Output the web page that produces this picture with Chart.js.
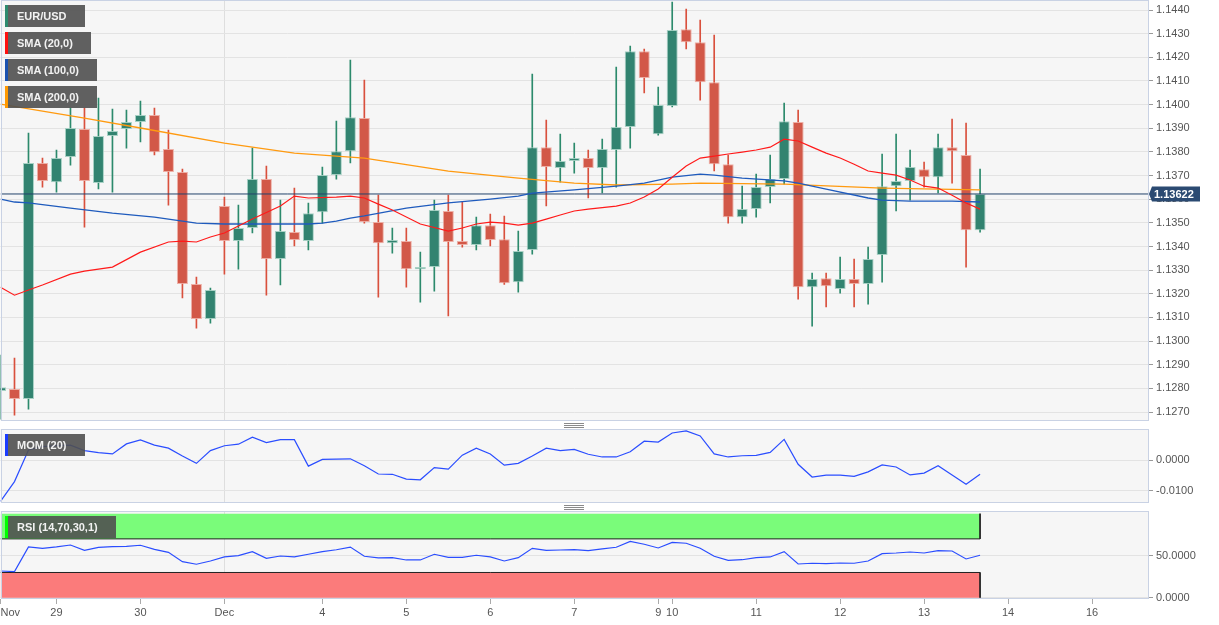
<!DOCTYPE html>
<html>
<head>
<meta charset="utf-8">
<script src="https://cdn.jsdelivr.net/npm/chart.js@4"></script>
<style>
  body { margin: 0; background: #fff; width: 1219px; height: 625px; position: relative; overflow: hidden; font-family: Arial, "Liberation Sans", sans-serif; }
  canvas { position: absolute; left: 0; }
  .tag { position: absolute; left: 5px; height: 22px; line-height: 22px; background: rgba(80, 80, 80, 0.9); color: #f2f2f2; font-weight: bold; font-size: 11px; padding: 0 18px 0 12px; white-space: nowrap; }
  .tag::before { content: ''; position: absolute; left: 0; top: 0; bottom: 0; width: 3px; background: var(--c); }
  .grip { position: absolute; left: 564px; width: 20px; height: 3px; border-top: 1px solid #8a8a8a; border-bottom: 1px solid #8a8a8a; }
  .grip::after { content: ''; position: absolute; left: 0; right: 0; top: 1px; border-top: 1px solid #8a8a8a; }
</style>
</head>
<body>
<canvas id="priceChart" width="1219" height="421" style="top:0"></canvas>
<canvas id="momChart" width="1219" height="74" style="top:429px"></canvas>
<canvas id="rsiChart" width="1219" height="114" style="top:511px"></canvas>

<div class="tag" style="top:5px; --c:#2e8b6f">EUR/USD</div>
<div class="tag" style="top:32px; --c:#ff1010">SMA (20,0)</div>
<div class="tag" style="top:59px; --c:#1a52b0">SMA (100,0)</div>
<div class="tag" style="top:86px; --c:#ff9900">SMA (200,0)</div>
<div class="tag" style="top:434px; --c:#1a3cff">MOM (20)</div>
<div class="tag" style="top:516px; --c:#00ff00">RSI (14,70,30,1)</div>
<div class="grip" style="top:423px"></div>
<div class="grip" style="top:505px"></div>

<script>
// 4h candles, EUR/USD, index = candle number from the left edge
const opens  = [1.12789,1.12797,1.12755,1.13753,1.13672,1.13778,1.13897,1.13668,1.13867,1.13897,
                1.13926,1.13956,1.13812,1.13715,1.13241,1.13093,1.13571,1.13423,1.13478,1.13685,
                1.13347,1.13461,1.13423,1.13545,1.13702,1.13803,1.13943,1.13503,1.13414,1.13423,
                1.13304,1.13313,1.13550,1.13423,1.13406,1.13490,1.13431,1.13249,1.13385,1.13820,
                1.13732,1.13761,1.13774,1.13732,1.13808,1.13905,1.14226,1.13875,1.13994,1.14319,
                1.14264,1.14095,1.13748,1.13524,1.13558,1.13651,1.13685,1.13926,1.13228,1.13266,
                1.13220,1.13262,1.13241,1.13364,1.13655,1.13677,1.13727,1.13693,1.13820,1.13787,
                1.13469];
const highs  = [1.12941,1.12928,1.13880,1.13774,1.13808,1.13985,1.13985,1.14028,1.13981,1.13977,
                1.14015,1.13985,1.13892,1.13727,1.13271,1.13224,1.13609,1.13575,1.13816,1.13740,
                1.13596,1.13647,1.13584,1.13736,1.13930,1.14188,1.14104,1.13617,1.13478,1.13478,
                1.13376,1.13596,1.13617,1.13588,1.13524,1.13537,1.13529,1.13465,1.14129,1.13935,
                1.13875,1.13837,1.13808,1.13854,1.14159,1.14247,1.14235,1.14074,1.14434,1.14404,
                1.14357,1.14294,1.13787,1.13655,1.13706,1.13787,1.14006,1.13977,1.13287,1.13287,
                1.13355,1.13347,1.13397,1.13791,1.13875,1.13808,1.13757,1.13875,1.13939,1.13922,
                1.13727];
const lows   = [1.12670,1.12687,1.12712,1.13651,1.13630,1.13744,1.13482,1.13643,1.13630,1.13816,
                1.13842,1.13787,1.13575,1.13182,1.13055,1.13076,1.13283,1.13304,1.13457,1.13194,
                1.13237,1.13402,1.13385,1.13499,1.13685,1.13753,1.13499,1.13186,1.13372,1.13228,
                1.13165,1.13211,1.13106,1.13397,1.13385,1.13402,1.13240,1.13207,1.13368,1.13571,
                1.13672,1.13710,1.13605,1.13626,1.13651,1.13816,1.14049,1.13871,1.13990,1.14235,
                1.14019,1.13719,1.13499,1.13499,1.13524,1.13584,1.13664,1.13177,1.13063,1.13144,
                1.13203,1.13144,1.13156,1.13249,1.13550,1.13596,1.13651,1.13626,1.13668,1.13313,
                1.13461];
const closes = [1.12805,1.12755,1.13753,1.13677,1.13774,1.13901,1.13677,1.13867,1.13888,1.13926,
                1.13956,1.13799,1.13715,1.13241,1.13093,1.13216,1.13423,1.13478,1.13685,1.13347,
                1.13465,1.13427,1.13541,1.13702,1.13803,1.13947,1.13503,1.13414,1.13427,1.13304,
                1.13313,1.13554,1.13419,1.13406,1.13490,1.13427,1.13245,1.13381,1.13820,1.13736,
                1.13761,1.13774,1.13732,1.13812,1.13905,1.14226,1.14112,1.13998,1.14315,1.14264,
                1.14095,1.13748,1.13524,1.13558,1.13651,1.13685,1.13930,1.13228,1.13262,1.13232,
                1.13262,1.13241,1.13347,1.13655,1.13677,1.13736,1.13693,1.13820,1.13803,1.13469,
                1.13622];

// moving averages, read at the candles where the line bends
const sma20Idx = [0,1,2,3,5,6,8,10,12,13,14,15,16,18,20,21,22,24,25,26,27,28,30,32,33,34,35,36,37,38,39,40,41,42,44,45,46,47,48,49,50,51,52,53,54,55,56,57,58,59,60,61,62,63,64,65,66,67,68,69,70];
const sma20Val = [1.13228,1.13194,1.13216,1.13237,1.13283,1.13296,1.13313,1.13376,1.13419,1.13423,1.13419,1.13440,1.13457,1.13516,1.13571,1.13613,1.13605,1.13609,1.13613,1.13605,1.13579,1.13554,1.13495,1.13465,1.13478,1.13495,1.13503,1.13499,1.13490,1.13499,1.13516,1.13533,1.13550,1.13558,1.13571,1.13584,1.13609,1.13643,1.13693,1.13740,1.13774,1.13782,1.13791,1.13799,1.13808,1.13820,1.13854,1.13846,1.13820,1.13795,1.13774,1.13748,1.13719,1.13710,1.13702,1.13681,1.13655,1.13647,1.13617,1.13584,1.13558];
const sma100Idx = [0,1,2,5,8,11,13,14,16,18,22,23,24,25,26,29,32,35,37,38,41,44,46,48,50,51,53,56,57,59,62,63,65,68,70];
const sma100Val = [1.13600,1.13588,1.13584,1.13562,1.13541,1.13524,1.13507,1.13499,1.13495,1.13495,1.13495,1.13499,1.13507,1.13520,1.13529,1.13562,1.13584,1.13600,1.13613,1.13626,1.13639,1.13655,1.13668,1.13693,1.13706,1.13702,1.13689,1.13677,1.13668,1.13643,1.13605,1.13596,1.13592,1.13592,1.13588];
const sma200Idx = [0,6,10,16,21,25,26,32,37,41,44,48,50,56,63,70];
const sma200Val = [1.14002,1.13943,1.13901,1.13837,1.13795,1.13778,1.13774,1.13719,1.13689,1.13668,1.13660,1.13664,1.13668,1.13664,1.13647,1.13639];

const momValues = [-0.0135,-0.0070,0.0034,0.0045,0.0048,0.0050,0.0032,0.0025,0.0021,0.0054,
                   0.0067,0.0050,0.0040,0.0014,-0.0010,0.0032,0.0048,0.0053,0.0076,0.0058,
                   0.0068,0.0068,-0.0019,0.0003,0.0004,0.0005,-0.0018,-0.0045,-0.0046,-0.0062,
                   -0.0064,-0.0024,-0.0029,0.0017,0.0040,0.0021,-0.0016,-0.0010,0.0014,0.0040,
                   0.0032,0.0036,0.0020,0.0011,0.0011,0.0028,0.0063,0.0060,0.0090,0.0097,
                   0.0080,0.0021,0.0011,0.0015,0.0016,0.0026,0.0069,-0.0013,-0.0055,-0.0049,
                   -0.0049,-0.0053,-0.0038,-0.0015,-0.0022,-0.0048,-0.0042,-0.0018,-0.0048,-0.0079,
                   -0.0046];
const rsiValues = [31.8,31.0,60.4,58.8,60.4,62.7,56.4,60.0,60.7,61.2,
                   62.4,57.6,54.0,42.9,39.8,43.7,48.5,50.0,54.8,46.9,
                   49.6,48.5,51.7,54.8,57.1,60.2,49.3,47.3,47.6,44.9,
                   44.9,51.7,48.1,48.1,50.5,48.5,43.7,47.6,58.8,56.4,
                   56.8,57.1,56.0,58.0,60.0,67.1,63.6,59.2,65.9,64.8,
                   58.8,49.3,44.5,45.2,47.6,48.5,54.8,40.1,41.0,40.5,
                   41.3,41.0,43.7,52.4,53.2,54.4,53.2,56.0,55.6,46.1,
                   50.5];

const xTickIdx = [0,4,10,16,23,29,35,41,47,48,54,60,66,72,78,82];
const xTickLabels = ['Nov','29','30','Dec','4','5','6','7','9','10','11','12','13','14','16',''];
const priceTicks = [1.127,1.128,1.129,1.130,1.131,1.132,1.133,1.134,1.135,1.136,1.137,1.138,1.139,1.140,1.141,1.142,1.143,1.144];
const momTicks = [0, -0.01];
const rsiTicks = [0, 50];
const rsiUpper = 70, rsiLower = 30;

const X_MAX = 82;
const lastIdx = closes.length - 1;
const lastPrice = closes[lastIdx];

Chart.defaults.font.family = 'Arial, "Liberation Sans", sans-serif';
Chart.defaults.font.size = 11;
Chart.defaults.color = '#555';
Chart.defaults.animation = false;
Chart.defaults.plugins.legend.display = false;
Chart.defaults.plugins.tooltip.enabled = false;

const GREEN = '#328370', RED = '#d25848';

// panel background and frame
const panelFrame = {
    id: 'panelFrame',
    beforeDraw(chart) {
        const a = chart.chartArea, ctx = chart.ctx;
        ctx.save();
        ctx.fillStyle = '#f6f6f6';
        ctx.fillRect(a.left, a.top, a.right - a.left, a.bottom - a.top);
        ctx.restore();
    },
    afterDraw(chart) {
        const a = chart.chartArea, ctx = chart.ctx;
        ctx.save();
        ctx.strokeStyle = '#c9d2e4';
        ctx.lineWidth = 1;
        ctx.strokeRect(Math.round(a.left) + 0.5, Math.round(a.top) + 0.5, Math.round(a.right - a.left) - 1, Math.round(a.bottom - a.top) - 1);
        ctx.restore();
    }
};

// last price tag on the price axis
const priceTag = {
    id: 'priceTag',
    afterDraw(chart) {
        const y = Math.round(chart.scales.y.getPixelForValue(lastPrice));
        const x0 = chart.chartArea.right + 4;
        const ctx = chart.ctx;
        ctx.save();
        ctx.fillStyle = '#2b4a72';
        ctx.beginPath();
        ctx.moveTo(x0 - 3, y);
        ctx.lineTo(x0, y - 7.5);
        ctx.lineTo(x0 + 48, y - 7.5);
        ctx.lineTo(x0 + 48, y + 7.5);
        ctx.lineTo(x0, y + 7.5);
        ctx.closePath();
        ctx.fill();
        ctx.fillStyle = '#fff';
        ctx.font = 'bold 11px Arial, "Liberation Sans", sans-serif';
        ctx.textBaseline = 'middle';
        ctx.fillText(lastPrice.toFixed(5), x0 + 2, y + 0.5);
        ctx.restore();
    }
};

function xScale(showLabels) {
    return {
        type: 'linear', min: 0, max: X_MAX, offset: false,
        afterBuildTicks: s => { s.ticks = xTickIdx.map(v => ({ value: v })); },
        afterFit: s => { s.height = showLabels ? 26 : 0; s.paddingLeft = 0; s.paddingRight = 0; },
        grid: {
            offset: false,
            drawTicks: showLabels,
            tickLength: 5,
            color: c => (c.tick && c.tick.value === 16) ? '#dedede' : 'rgba(0,0,0,0)',
            tickColor: c => (c.tick && c.tick.value === X_MAX) ? 'rgba(0,0,0,0)' : '#aaa'
        },
        border: { display: false },
        ticks: {
            display: showLabels, autoSkip: false, maxRotation: 0, align: 'inner', padding: 2,
            callback: (v, i) => xTickLabels[i]
        }
    };
}

function yScale(min, max, ticks, gridColor) {
    return {
        position: 'right', min: min, max: max,
        afterBuildTicks: s => { s.ticks = ticks.map(v => ({ value: v })); },
        afterFit: s => { s.width = 71; s.paddingTop = 0; s.paddingBottom = 0; },
        grid: { color: gridColor, tickColor: '#999', tickLength: 5 },
        border: { display: false },
        ticks: { padding: 3, callback: v => v.toFixed(4) }
    };
}

const idx = closes.map((c, i) => i);
const up = idx.map(i => closes[i] >= opens[i]);

new Chart(document.getElementById('priceChart'), {
    type: 'bar',
    data: {
        datasets: [
            { type: 'line', data: sma20Idx.map((x, k) => ({ x, y: sma20Val[k] })), borderColor: '#ff1a1a', borderWidth: 1.2, pointRadius: 0, order: 0 },
            { type: 'line', data: sma100Idx.map((x, k) => ({ x, y: sma100Val[k] })), borderColor: '#1f5bbd', borderWidth: 1.3, pointRadius: 0, order: 1 },
            { type: 'line', data: sma200Idx.map((x, k) => ({ x, y: sma200Val[k] })), borderColor: '#ff9a10', borderWidth: 1.3, pointRadius: 0, order: 2 },
            { type: 'line', data: [{ x: 0, y: lastPrice }, { x: X_MAX, y: lastPrice }], borderColor: '#23426b', borderWidth: 1, pointRadius: 0, order: 3 },
            {
                data: idx.map(i => ({ x: i, y: [opens[i], closes[i]] })),
                backgroundColor: idx.map(i => up[i] ? GREEN : RED),
                borderColor: idx.map(i => up[i] ? 'rgba(160,205,192,0.9)' : 'rgba(236,168,158,0.9)'),
                borderWidth: 1, borderSkipped: false, grouped: false,
                barPercentage: 0.8, categoryPercentage: 1, maxBarThickness: 11, order: 5
            },
            {
                data: idx.map(i => ({ x: i, y: [lows[i], highs[i]] })),
                backgroundColor: idx.map(i => up[i] ? '#2c8a6c' : '#d9503d'),
                borderWidth: 0, grouped: false,
                barPercentage: 1, categoryPercentage: 1, maxBarThickness: 1, order: 6
            }
        ]
    },
    options: {
        responsive: false,
        layout: { padding: { left: 0.5, right: 0, top: 0, bottom: 0 } },
        scales: {
            x: xScale(false),
            y: yScale(1.12662, 1.144423, priceTicks, '#e3e3e3')
        }
    },
    plugins: [panelFrame, priceTag]
});

new Chart(document.getElementById('momChart'), {
    type: 'line',
    data: {
        datasets: [
            { data: idx.map(i => ({ x: i, y: momValues[i] })), borderColor: '#2a4dff', borderWidth: 1.2, pointRadius: 0 }
        ]
    },
    options: {
        responsive: false,
        layout: { padding: { left: 0.5 } },
        scales: {
            x: xScale(false),
            y: yScale(-0.01404, 0.0103, momTicks, '#e3e3e3')
        }
    },
    plugins: [panelFrame]
});

new Chart(document.getElementById('rsiChart'), {
    type: 'line',
    data: {
        datasets: [
            { data: idx.map(i => ({ x: i, y: rsiValues[i] })), borderColor: '#2a4dff', borderWidth: 1.2, pointRadius: 0, order: 0 },
            { data: [{ x: 0, y: rsiUpper }, { x: lastIdx, y: rsiUpper }], borderColor: '#222', borderWidth: 1, pointRadius: 0,
              fill: { value: 100 }, backgroundColor: '#7afc7a', order: 2 },
            { data: [{ x: 0, y: rsiLower }, { x: lastIdx, y: rsiLower }], borderColor: '#222', borderWidth: 1, pointRadius: 0,
              fill: { value: 0 }, backgroundColor: '#fb7b7b', order: 3 },
            { data: [{ x: lastIdx, y: 100 }, { x: lastIdx, y: rsiUpper }, { x: lastIdx, y: null }, { x: lastIdx, y: rsiLower }, { x: lastIdx, y: 0 }],
              borderColor: '#222', borderWidth: 1, pointRadius: 0, spanGaps: false, order: 1 }
        ]
    },
    options: {
        responsive: false,
        layout: { padding: { left: 0.5 } },
        scales: {
            x: xScale(true),
            y: yScale(-1.56, 103.2, rsiTicks, '#e3e3e3')
        }
    },
    plugins: [panelFrame]
});
</script>
</body>
</html>
